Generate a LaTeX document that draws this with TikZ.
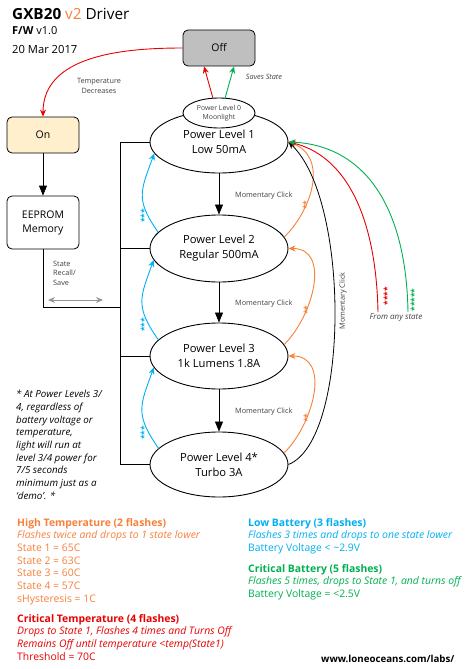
\documentclass[tikz,border=0pt]{standalone}
\usepackage{fontspec}
\setmainfont{Open Sans}
\usetikzlibrary{shapes.geometric,arrows.meta}
\definecolor{orangeC}{RGB}{247,128,58}
\definecolor{redC}{RGB}{232,0,0}
\definecolor{blueC}{RGB}{0,176,240}
\definecolor{greenC}{RGB}{0,176,80}
\definecolor{offgray}{RGB}{191,191,191}
\definecolor{onfill}{RGB}{255,239,204}
\definecolor{labgray}{RGB}{64,64,64}
\definecolor{arrowgray}{RGB}{150,150,150}
\tikzset{
  box/.style={draw, rounded corners=5pt, minimum width=72pt, minimum height=36pt, inner sep=0pt, align=center, font=\fontsize{10.5}{14}\selectfont, line width=0.8pt},
  plnode/.style={draw, ellipse, fill=white, minimum width=138pt, minimum height=64pt, inner sep=0pt, align=center, font=\fontsize{11.2}{15}\selectfont, line width=0.9pt},
  smalllab/.style={font=\fontsize{7.3}{9.5}\selectfont, text=labgray, inner sep=0pt},
  blk/.style={line width=0.8pt, -{Triangle[length=10pt,width=8pt]}},
  thin/.style={line width=0.8pt},
  carr/.style={line width=0.9pt, -{Stealth[length=7pt,width=6pt]}},
  stars/.style={font=\fontsize{8.5}{8.5}\bfseries\selectfont, inner sep=0pt},
  txtblock/.style={anchor=north west, align=left, inner sep=0pt, font=\fontsize{10.4}{12.7}\selectfont},
}
\begin{document}
\begin{tikzpicture}[x=1pt,y=-1pt]
\useasboundingbox (0,0) rectangle (474,669);
% title
\node[anchor=base west, inner sep=0pt, font=\fontsize{15.3}{18}\selectfont] (title) at (12,20) {\textbf{GXB20} \textcolor{orangeC}{v2} Driver};
\node[anchor=base west, inner sep=0pt, font=\fontsize{11}{13}\selectfont] (fw) at (12,35) {\textbf{F/W} v1.0};
\node[anchor=base west, inner sep=0pt, font=\fontsize{11.2}{13}\selectfont] (date) at (12,53) {20 Mar 2017};
% boxes
\node[box, fill=offgray] (off) at (219,48) {Off};
\node[box, fill=onfill] (on) at (43,135) {On};
\node[box, minimum height=53pt] (eeprom) at (43,222.5) {EEPROM\\Memory};
% ellipses
\node[plnode, minimum height=62pt] (pl1) at (219,142) {Power Level 1\\Low 50mA};
\node[plnode, minimum height=30pt, minimum width=72pt, font=\fontsize{6.9}{9}\selectfont, text=labgray] (pl0) at (219,113) {Power Level 0\\Moonlight};
\node[plnode, minimum height=67pt] (pl2) at (219,248.5) {Power Level 2\\Regular 500mA};
\node[plnode, minimum height=66pt] (pl3) at (219,356) {Power Level 3\\1k Lumens 1.8A};
\node[plnode, minimum height=65pt] (pl4) at (219,464.5) {Power Level 4*\\Turbo 3A};
% main arrows
\draw[blk] (on) -- (eeprom);
\draw[blk] (pl1) -- (pl2);
\draw[blk] (pl2) -- (pl3);
\draw[blk] (pl3) -- (pl4);
\node[smalllab, anchor=base west] (mc1) at (235,197) {Momentary Click};
\node[smalllab, anchor=base west] (mc2) at (235,305) {Momentary Click};
\node[smalllab, anchor=base west] (mc3) at (235,413) {Momentary Click};
% bus
\coordinate (bus) at (120,0);
\coordinate (busjoin) at (120,307);
\draw[thin] (pl1.west) -- (pl1.west -| bus) -- (pl4.west -| bus) -- (pl4.west);
\draw[thin] (pl2.west) -- (pl2.west -| bus);
\draw[thin] (pl3.west) -- (pl3.west -| bus);
\draw[thin] (eeprom.south) |- (busjoin);
\coordinate (sr1) at (48,300);
\coordinate (sr2) at (103,300);
\draw[line width=0.9pt, arrowgray, {Stealth[length=7pt,width=6pt]}-{Stealth[length=7pt,width=6pt]}] (sr1) -- (sr2);
\node[smalllab, anchor=north west, align=left] (srlab) at (53,261) {State\\Recall/\\Save};
% off / on
\draw[carr, redC] (off.west) to[out=180, in=90] (on.north);
\node[smalllab, align=center] (tdlab) at (99,86) {Temperature\\Decreases};
\draw[carr, redC] (pl0.112) -- (off.south -| 204,0);
\draw[carr, greenC] (pl0.68) -- (off.south -| 234,0);
\node[smalllab, font=\fontsize{7.3}{9}\itshape\selectfont] (sslab) at (264,77) {Saves State};
% blue (low battery)
\draw[carr, blueC] (pl2.165) to[out=125, in=250, looseness=1.3] (pl1.190);
\draw[carr, blueC] (pl3.165) to[out=125, in=250, looseness=1.3] (pl2.190);
\draw[carr, blueC] (pl4.165) to[out=125, in=250, looseness=1.3] (pl3.190);
\node[stars, text=blueC, rotate=90] (bs1) at (144,216) {***};
\node[stars, text=blueC, rotate=90] (bs2) at (144,325) {***};
\node[stars, text=blueC, rotate=90] (bs3) at (144,433) {***};
% orange (high temp)
\draw[carr, orangeC] (pl2.10) to[out=45, in=-20, looseness=1.12] (pl1.east);
\draw[carr, orangeC] (pl3.10) to[out=45, in=0, looseness=1.12] (pl2.east);
\draw[carr, orangeC] (pl4.10) to[out=45, in=0, looseness=1.12] (pl3.east);
\node[stars, text=orangeC, rotate=90] (os1) at (306,205) {**};
\node[stars, text=orangeC, rotate=90] (os2) at (307,310) {**};
\node[stars, text=orangeC, rotate=90] (os3) at (307,418) {**};
% momentary click back to level 1
\draw[line width=0.8pt, -{Stealth[length=7pt,width=6pt]}] (pl4.east) .. controls (350,440) and (350,200) .. (pl1.east);
\node[smalllab, rotate=90] (mcv) at (343,301) {Momentary Click};
% from any state
\coordinate (redstart) at (378,312);
\coordinate (greenstart) at (408,312);
\draw[carr, redC] (redstart) .. controls (376,215) and (345,155) .. (pl1.east);
\draw[carr, greenC] (greenstart) .. controls (406,200) and (360,145) .. (pl1.east);
\node[stars, text=redC, rotate=90] (rs) at (387,296) {****};
\node[stars, text=greenC, rotate=90] (gs) at (414,300) {*****};
\node[smalllab, font=\fontsize{8}{9}\itshape\selectfont] (fas) at (396,318) {From any state};
% footnote
\node[txtblock, font=\fontsize{9.8}{12.7}\itshape\selectfont] (foot) at (16,390) {* At Power Levels 3/\\4, regardless of\\battery voltage or\\temperature,\\light will run at\\level 3/4 power for\\7/5 seconds\\minimum just as a\\`demo'. *};
% legends
\node[txtblock, text=orangeC] (ht) at (17,518) {\textbf{High Temperature (2 flashes)}\\\textit{Flashes twice and drops to 1 state lower}\\State 1 = 65C\\State 2 = 63C\\State 3 = 60C\\State 4 = 57C\\sHysteresis = 1C};
\node[txtblock, text=redC] (ct) at (17,614) {\textbf{Critical Temperature (4 flashes)}\\\textit{Drops to State 1, Flashes 4 times and Turns Off}\\\textit{Remains Off until temperature <temp(State1)}\\Threshold = 70C};
\node[txtblock, text=blueC] (lb) at (248,518) {\textbf{Low Battery (3 flashes)}\\\textit{Flashes 3 times and drops to one state lower}\\Battery Voltage < \textasciitilde2.9V};
\node[txtblock, text=greenC] (cb) at (248,564) {\textbf{Critical Battery (5 flashes)}\\\textit{Flashes 5 times, drops to State 1, and turns off}\\Battery Voltage = <2.5V};
\node[anchor=base west, inner sep=0pt, font=\fontsize{9.7}{12}\bfseries\selectfont] (url) at (321,662) {www.loneoceans.com/labs/};
\end{tikzpicture}
\end{document}
